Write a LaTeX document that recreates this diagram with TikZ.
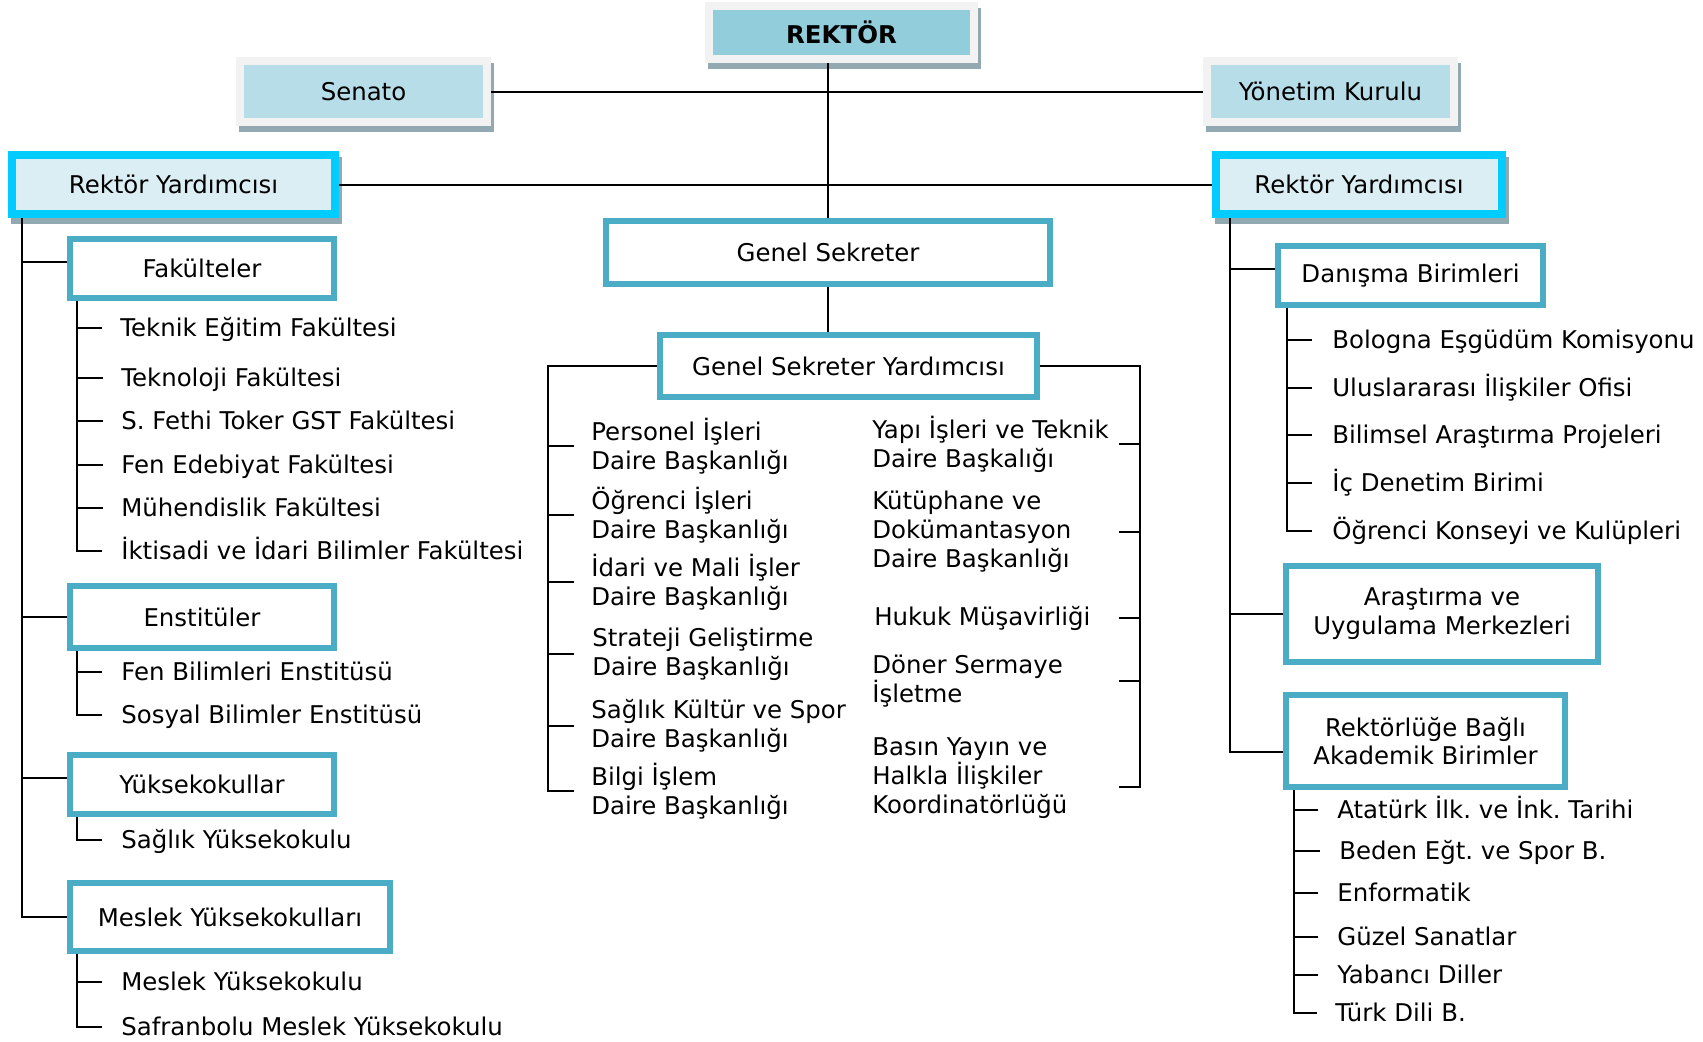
\documentclass[tikz,border=0pt]{standalone}
\usepackage{fontspec}
\setmainfont{DejaVu Sans}
\usetikzlibrary{backgrounds}

\definecolor{rektorfill}{HTML}{92CDDC}
\definecolor{boardfill}{HTML}{B7DEE8}
\definecolor{framegray}{HTML}{F2F2F2}
\definecolor{shadegray}{HTML}{93A9B2}
\definecolor{deputyfill}{HTML}{DAEEF3}
\definecolor{deputyline}{HTML}{00CCFF}
\definecolor{unitline}{HTML}{4BACC6}

\tikzset{
	board/.style={draw=framegray, fill=boardfill, line width=0.15cm, inner sep=0pt},
	deputy/.style={draw=deputyline, fill=deputyfill, line width=0.15cm, inner sep=0pt},
	unit/.style={draw=unitline, fill=white, line width=0.12cm, inner sep=0pt, align=center},
	item/.style={anchor=west, inner sep=0pt, text height=12pt, text depth=2.5pt},
	office/.style={anchor=west, inner sep=0pt, align=left},
	conn/.style={line width=0.04cm, black},
	shadowbox/.style={fill=shadegray}
}

\begin{document}
\begin{tikzpicture}[x=0.02cm, y=-0.02cm]
	\fontsize{13.9pt}{16.4pt}\selectfont\frenchspacing
	\useasboundingbox (0,0) rectangle (1703,1041);
	
	% top level
	\node[board, fill=rektorfill, font=\bfseries, minimum width=5.31cm, minimum height=1.07cm] (rektor) at (841.5,32.5) {REKTÖR};
	\node[board, minimum width=4.95cm, minimum height=1.23cm] (senato) at (363.5,91.5) {Senato};
	\node[board, minimum width=4.95cm, minimum height=1.23cm] (yk) at (1330.5,91.5) {Yönetim Kurulu};
	\node[deputy, minimum width=6.47cm, minimum height=1.19cm] (ryl) at (173.5,184.5) {Rektör Yardımcısı};
	\node[deputy, minimum width=5.73cm, minimum height=1.19cm] (ryr) at (1359,184.5) {Rektör Yardımcısı};
	
	\node[unit, minimum width=8.88cm, minimum height=1.26cm] (gs) at (828,252.5) {Genel Sekreter};
	\node[unit, minimum width=7.54cm, minimum height=1.24cm] (gsy) at (848.5,366) {Genel Sekreter Yardımcısı};
	
	% left side
	\node[unit, minimum width=5.28cm, minimum height=1.18cm] (fak) at (202,268.5) {Fakülteler};
	\node[unit, minimum width=5.28cm, minimum height=1.24cm] (ens) at (202,617) {Enstitüler};
	\node[unit, minimum width=5.28cm, minimum height=1.18cm] (yo) at (202,784.5) {Yüksekokullar};
	\node[unit, minimum width=6.40cm, minimum height=1.36cm] (myo) at (230,917) {Meslek Yüksekokulları};
	
	\node[item] (teknik) at (120,328) {Teknik Eğitim Fakültesi};
	\node[item] (teknoloji) at (121,378) {Teknoloji Fakültesi};
	\node[item] (gst) at (121,421) {S. Fethi Toker GST Fakültesi};
	\node[item] (fen) at (121,465) {Fen Edebiyat Fakültesi};
	\node[item] (muh) at (121,508) {Mühendislik Fakültesi};
	\node[item] (iktisat) at (121,551) {İktisadi ve İdari Bilimler Fakültesi};
	\node[item] (fbe) at (121,672) {Fen Bilimleri Enstitüsü};
	\node[item] (sbe) at (121,715) {Sosyal Bilimler Enstitüsü};
	\node[item] (syo) at (121,840) {Sağlık Yüksekokulu};
	\node[item] (meslek) at (121,982) {Meslek Yüksekokulu};
	\node[item] (safran) at (121,1027) {Safranbolu Meslek Yüksekokulu};
	
	% middle
	\node[office] (pers) at (591,446) {Personel İşleri\\Daire Başkanlığı};
	\node[office] (ogr) at (591,515) {Öğrenci İşleri\\Daire Başkanlığı};
	\node[office] (idari) at (591,582) {İdari ve Mali İşler\\Daire Başkanlığı};
	\node[office] (strat) at (592,654) {Strateji Geliştirme\\Daire Başkanlığı};
	\node[office] (saglik) at (591,726) {Sağlık Kültür ve Spor\\Daire Başkanlığı};
	\node[office] (bilgi) at (591,791) {Bilgi İşlem\\Daire Başkanlığı};
	
	\node[office] (yapi) at (872,444) {Yapı İşleri ve Teknik\\Daire Başkalığı};
	\node[office] (kutup) at (872,532) {Kütüphane ve\\Dokümantasyon\\Daire Başkanlığı};
	\node[office] (hukuk) at (874,618) {Hukuk Müşavirliği};
	\node[office] (doner) at (872,681) {Döner Sermaye\\İşletme};
	\node[office] (basin) at (872,778) {Basın Yayın ve\\Halkla İlişkiler\\Koordinatörlüğü};
	
	% right side
	\node[unit, minimum width=5.30cm, minimum height=1.18cm] (dan) at (1410.5,275.5) {Danışma Birimleri};
	\node[unit, minimum width=6.24cm, minimum height=1.92cm] (arm) at (1442,614) {Araştırma ve\\Uygulama Merkezleri};
	\node[unit, minimum width=5.58cm, minimum height=1.84cm] (rba) at (1425.5,741) {Rektörlüğe Bağlı\\Akademik Birimler};
	
	\node[item] (bologna) at (1332,340) {Bologna Eşgüdüm Komisyonu};
	\node[item] (ulus) at (1332,388) {Uluslararası İlişkiler Ofisi};
	\node[item] (bap) at (1332,435) {Bilimsel Araştırma Projeleri};
	\node[item] (denetim) at (1332,483) {İç Denetim Birimi};
	\node[item] (konsey) at (1332,531) {Öğrenci Konseyi ve Kulüpleri};
	\node[item] (ataturk) at (1337,810) {Atatürk İlk. ve İnk. Tarihi};
	\node[item] (beden) at (1339,851) {Beden Eğt. ve Spor B.};
	\node[item] (enf) at (1337,893) {Enformatik};
	\node[item] (guzel) at (1337,937) {Güzel Sanatlar};
	\node[item] (yabanci) at (1337,975) {Yabancı Diller};
	\node[item] (turk) at (1335,1013) {Türk Dili B.};
	
	% shadows
	\begin{scope}[on background layer]
		\foreach \n in {rektor,senato,yk,ryl,ryr}
			\fill[shadowbox] ([shift={(3,6)}]\n.south west) rectangle ([shift={(3,6)}]\n.north east);
	\end{scope}
	
	% connectors
	\draw[conn] (senato) -- (yk);
	\draw[conn] (ryl) -- (ryr);
	\draw[conn] (gs.north) -- (gs.north |- rektor.south);
	\draw[conn] (gs.south) -- (gs.south |- gsy.north);
	
	\coordinate (lbar) at (548,366);
	\coordinate (rbot) at (1140,787);
	\draw[conn] (gsy.west) -| (lbar |- bilgi.west) -- ++(26,0);
	\foreach \n in {pers,ogr,idari,strat,saglik}
		\draw[conn] (lbar |- \n.west) -- ++(26,0);
	\draw[conn] (gsy.east) -| (rbot) -- ++(-21,0);
	\foreach \n in {yapi,kutup,hukuk,doner}
		\draw[conn] (rbot |- \n.east) -- ++(-21,0);
	
	\coordinate (lmain) at (22,0);
	\coordinate (rmain) at (1230,0);
	\path ([yshift=0.13cm]fak.west) coordinate (fakt)
		([yshift=0.13cm]yo.west) coordinate (yot)
		([yshift=0.13cm]dan.west) coordinate (dant)
		([yshift=-0.22cm]rba.west) coordinate (rbat);
	\draw[conn] (lmain |- ryl.south) |- (myo.west);
	\draw[conn] (fakt) -- (fakt -| lmain);
	\draw[conn] (ens.west) -- (ens.west -| lmain);
	\draw[conn] (yot) -- (yot -| lmain);
	\draw[conn] (rmain |- ryr.south) |- (rbat);
	\draw[conn] (dant) -- (dant -| rmain);
	\draw[conn] (arm.west) -- (arm.west -| rmain);
	
	\coordinate (fbar) at ([xshift=0.2cm]fak.south west);
	\draw[conn] (fbar) |- ([xshift=-0.38cm]iktisat.west);
	\foreach \n in {teknik,teknoloji,gst,fen,muh}
		\draw[conn] (fbar |- \n.west) -- ([xshift=-0.36cm]\n.west);
	
	\coordinate (ebar) at ([xshift=0.2cm]ens.south west);
	\draw[conn] (ebar) |- ([xshift=-0.38cm]sbe.west);
	\draw[conn] (ebar |- fbe.west) -- ([xshift=-0.38cm]fbe.west);
	
	\coordinate (ybar) at ([xshift=0.2cm]yo.south west);
	\draw[conn] (ybar) |- ([xshift=-0.38cm]syo.west);
	
	\coordinate (mbar) at ([xshift=0.2cm]myo.south west);
	\draw[conn] (mbar) |- ([xshift=-0.38cm]safran.west);
	\draw[conn] (mbar |- meslek.west) -- ([xshift=-0.38cm]meslek.west);
	
	\coordinate (dbar) at ([xshift=0.24cm]dan.south west);
	\draw[conn] (dbar) |- ([xshift=-0.4cm]konsey.west);
	\foreach \n in {bologna,ulus,bap,denetim}
		\draw[conn] (dbar |- \n.west) -- ([xshift=-0.4cm]\n.west);
	
	\coordinate (bbar) at ([xshift=0.22cm]rba.south west);
	\draw[conn] (bbar) |- ([xshift=-0.36cm]turk.west);
	\foreach \n in {ataturk,beden,enf,guzel,yabanci}
		\draw[conn] (bbar |- \n.west) -- ([xshift=-0.38cm]\n.west);
	
\end{tikzpicture}
\end{document}
